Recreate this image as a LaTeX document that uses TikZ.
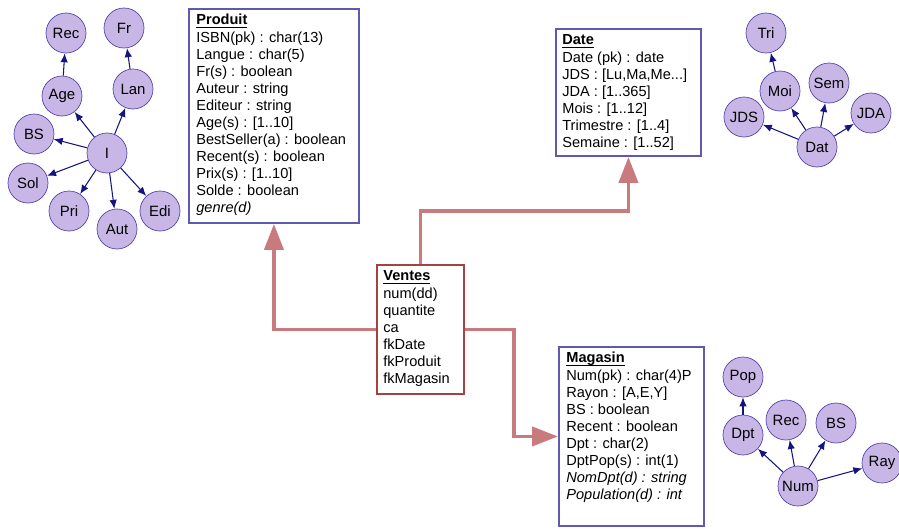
\documentclass[tikz,border=0pt]{standalone}
\usepackage{fontspec}
\setmainfont{Liberation Sans}
\usetikzlibrary{calc,positioning,arrows.meta}
\definecolor{attrfill}{RGB}{200,182,230}
\definecolor{attrline}{RGB}{85,70,170}
\definecolor{deparrow}{RGB}{20,20,130}
\definecolor{dimline}{RGB}{95,90,175}
\definecolor{factline}{RGB}{165,65,65}
\definecolor{linkcol}{RGB}{200,122,124}
\newcommand\tabtitle[1]{\underline{\smash{\textbf{#1}}}\vphantom{\textbf{Pd}}}
\tikzset{
	attr/.style={circle, draw=attrline, fill=attrfill, minimum size=0.8cm, inner sep=0pt, font=\fontsize{8.5}{10}\selectfont},
	dep/.style={-{Latex[length=0.18cm,width=0.15cm]}, draw=deparrow, line width=0.6pt},
	dimbox/.style={draw=dimline, line width=1.1pt, anchor=north west, inner sep=0pt},
	factbox/.style={draw=factline, line width=1.1pt, anchor=north west, inner sep=0pt},
	fields/.style={anchor=north west, align=left, inner sep=0pt, font=\fontsize{8.3}{9.72}\selectfont},
	link/.style={draw=linkcol, line width=2.2pt, -{Triangle[width=0.38cm,length=0.52cm]}}
}
\begin{document}
\begin{tikzpicture}[x=0.02cm, y=-0.02cm]
	\useasboundingbox (0,0) rectangle (899,528);
	\node[dimbox, minimum width=3.4cm, minimum height=4.28cm] at (188,8) (prod) {};
	\node[dimbox, minimum width=2.9cm, minimum height=2.54cm] at (555,28) (date) {};
	\node[factbox, minimum width=1.74cm, minimum height=2.58cm] at (376,264) (ventes) {};
	\node[dimbox, minimum width=2.9cm, minimum height=3.58cm] at (558,346) (mag) {};
	\node[fields] at ($(prod.north west)+(8,6)$) (prodtxt) {\tabtitle{Produit}\\ISBN(pk) : char(13)\\Langue : char(5)\\Fr(s) : boolean\\Auteur : string\\Editeur : string\\Age(s) : [1..10]\\BestSeller(a) : boolean\\Recent(s) : boolean\\Prix(s) : [1..10]\\Solde : boolean\\\textit{genre(d)}};
	\node[fields] at ($(date.north west)+(7,6)$) (datetxt) {\tabtitle{Date}\\Date (pk) : date\\JDS : [Lu,Ma,Me...]\\JDA : [1..365]\\Mois : [1..12]\\Trimestre : [1..4]\\Semaine : [1..52]};
	\node[fields] at ($(ventes.north west)+(7,6)$) (ventestxt) {\tabtitle{Ventes}\\num(dd)\\quantite\\ca\\fkDate\\fkProduit\\fkMagasin};
	\node[fields] at ($(mag.north west)+(8,6)$) (magtxt) {\tabtitle{Magasin}\\Num(pk) : char(4)P\\Rayon : [A,E,Y]\\BS : boolean\\Recent : boolean\\Dpt : char(2)\\DptPop(s) : int(1)\\\textit{NomDpt(d) : string}\\\textit{Population(d) : int}};
	\draw[link] (ventes.north) -- ++(0,-53) -| (date.south);
	\draw[link] (ventes.west) -| (prod.south);
	\draw[link] (ventes.east) -- ++(49,0) |- (mag.west);
	\node[attr] at (66,33) (rec1) {Rec};
	\node[attr] at (124,28) (fr) {Fr};
	\node[attr] at (62,96) (age) {Age};
	\node[attr] at (133,89) (lan) {Lan};
	\node[attr] at (34,134) (bs1) {BS};
	\node[attr] at (107,153) (i) {I};
	\node[attr] at (28,183) (sol) {Sol};
	\node[attr] at (69,211) (pri) {Pri};
	\node[attr] at (117,229) (aut) {Aut};
	\node[attr] at (160,211) (edi) {Edi};
	\node[attr] at (766,33) (tri) {Tri};
	\node[attr] at (780,91) (moi) {Moi};
	\node[attr] at (829,83) (sem) {Sem};
	\node[attr] at (744,117) (jds) {JDS};
	\node[attr] at (871,113) (jda) {JDA};
	\node[attr] at (817,147) (dat) {Dat};
	\node[attr] at (743,377) (pop) {Pop};
	\node[attr] at (743,435) (dpt) {Dpt};
	\node[attr] at (786,420) (rec2) {Rec};
	\node[attr] at (836,423) (bs2) {BS};
	\node[attr] at (882,463) (ray) {Ray};
	\node[attr] at (798,486) (num) {Num};
	\foreach \a/\b in {i/age, i/lan, i/bs1, i/sol, i/pri, i/aut, i/edi, age/rec1, lan/fr, dat/jds, dat/moi, dat/sem, dat/jda, moi/tri, num/dpt, num/rec2, num/bs2, num/ray, dpt/pop}{
		\draw[dep] (\a) -- (\b);
	}
\end{tikzpicture}
\end{document}
